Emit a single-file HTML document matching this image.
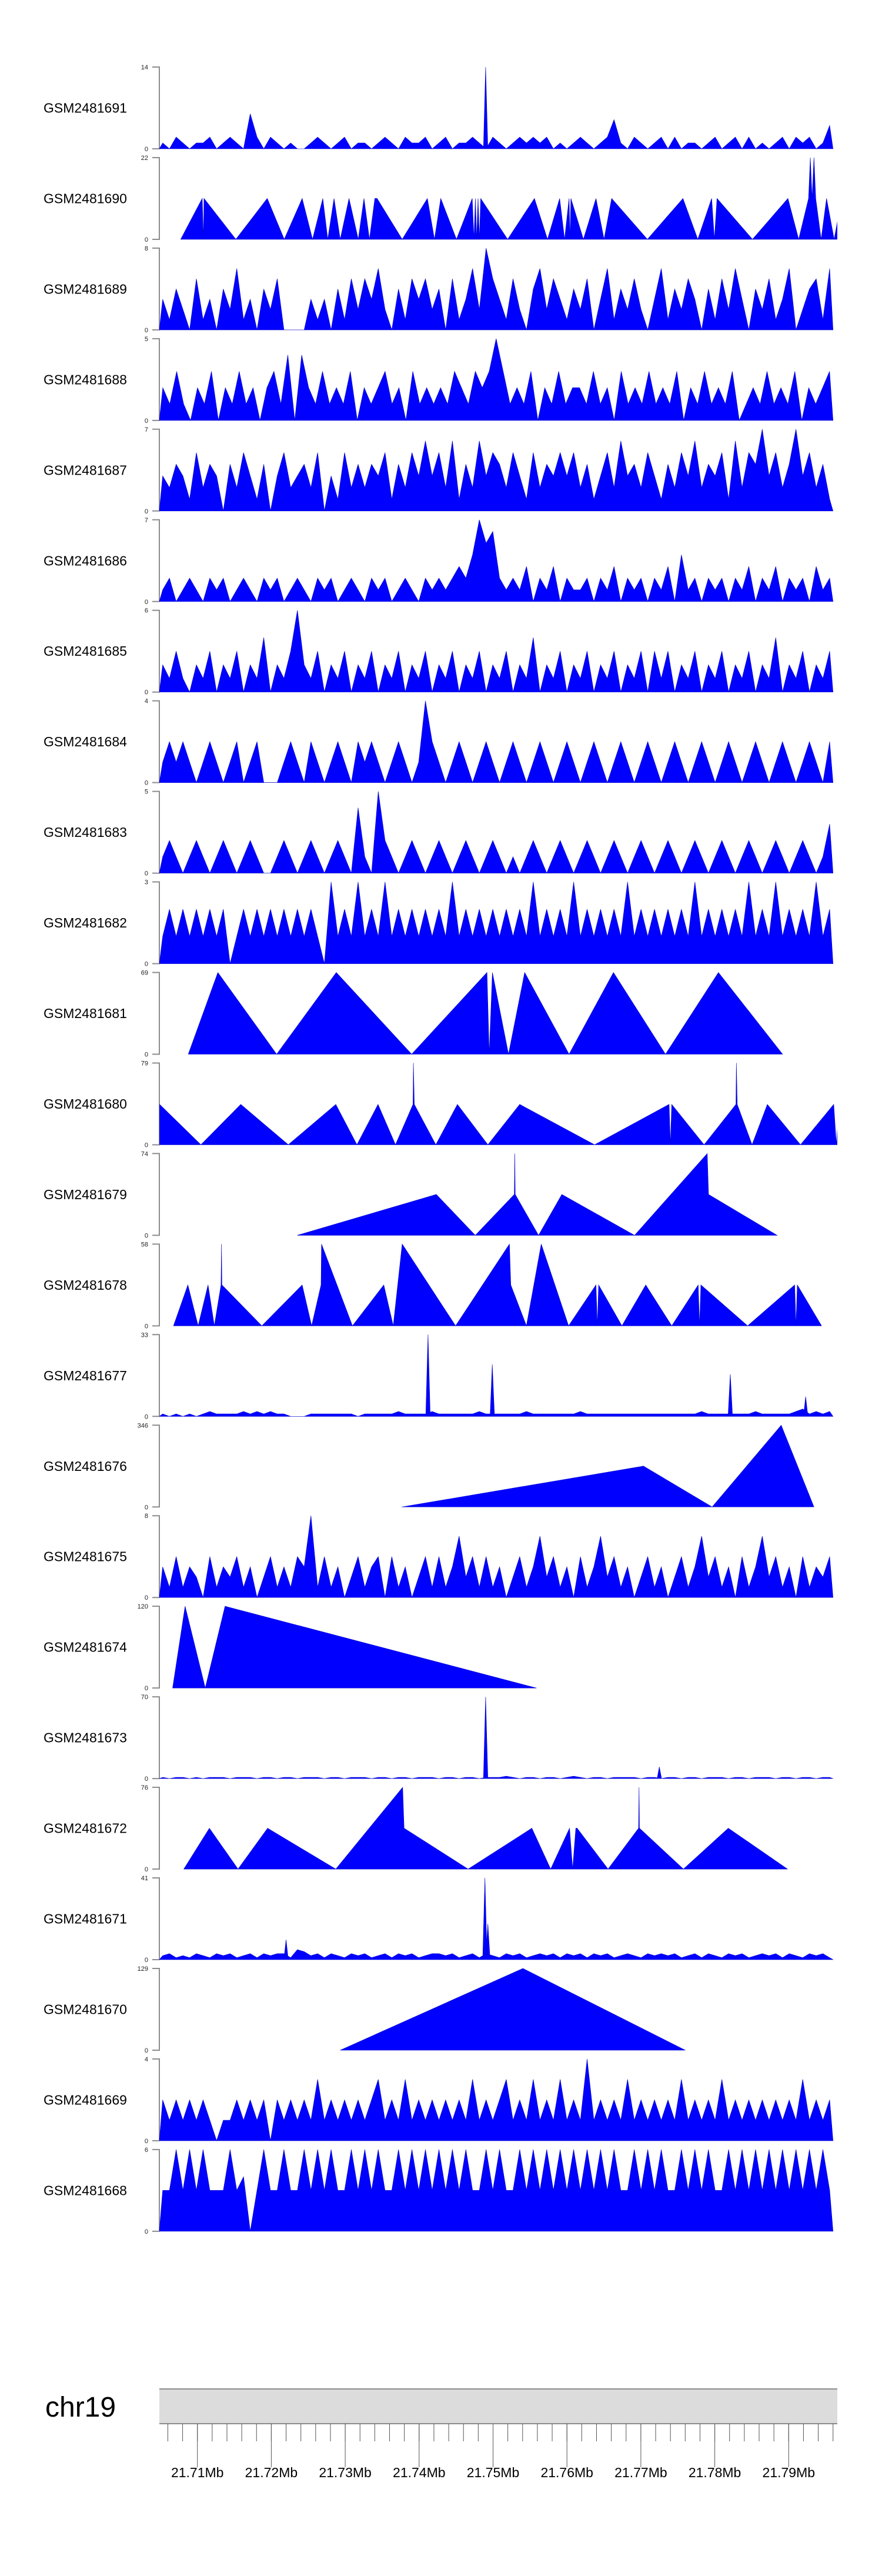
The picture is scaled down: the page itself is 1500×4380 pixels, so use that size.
<!DOCTYPE html>
<html><head><meta charset="utf-8"><style>
body{margin:0;background:#fff;}
svg{display:block;font-family:"Liberation Sans",sans-serif;}
</style></head><body>
<svg id="chart" width="1500" height="4380" viewBox="0 0 1500 4380" xmlns="http://www.w3.org/2000/svg"></svg>
<script>
// ---- data (positions in kb offset from 21.70 Mb) ----
const trackNames = ["GSM2481691","GSM2481690","GSM2481689","GSM2481688","GSM2481687","GSM2481686","GSM2481685","GSM2481684","GSM2481683","GSM2481682","GSM2481681","GSM2481680","GSM2481679","GSM2481678","GSM2481677","GSM2481676","GSM2481675","GSM2481674","GSM2481673","GSM2481672","GSM2481671","GSM2481670","GSM2481669","GSM2481668"];
const trackMax = [14,22,8,5,7,7,6,4,5,3,69,79,74,58,33,346,8,120,70,76,41,129,4,6];
const binStart = 4.85, binEnd = 96.0;
// dense tracks: one digit per bin (value in data units)
const denseBins = {
 "GSM2481691":"1021011201210620210100121012011012102112012011210210121212010121012510210120201101201202010120212014",
 "GSM2481689":"3142051304261304250000313041525362041535240513628531520462531425036142520361425304152630425136024516",
 "GSM2481688":"2131021302131202314042131213021231203121213213235312130213122131203121312130213121301213121302123",
 "GSM2481687":"3243152430425314035234250315242435142536352614263542531524353524135263425314253624351625473524735241",
 "GSM2481686":"1201210212012102120121021201210212012102121232475621213021302112021302120213041202120213021302120312",
 "GSM2481685":"2131021302130214021362130213021302130213021302130213021402130213021302130313021302130213021402130213",
 "GSM2481684":"1212101210120120001210210121021210121014210121012101210121012101210121012101210121012101210121012102",
 "GSM2481683":"1210121012101210012101210121041052101210121012101210101210121012101210121012101210121012101210121013",
 "GSM2481682":"1212121212012121212121210312131213121212121312121212121312121312121213121212121312121213121312121312",
 "GSM2481677":"1010101211112121211000111111101111121111211111121111112111111121111111111111111121111111211111231212",
 "GSM2481675":"3141320413241302413143814130241340413024141362414130241362413041362413024130241362413041362413041324",
 "GSM2481673":"1011010111011101101101110110111011011011101101101112101101101210110111101101101101110110111011011011",
 "GSM2481671":"2312132132312313233154231321323123132312332312313213231232313231323123213232312313213231232313213231",
 "GSM2481669":"2121212101121212021212131212121231213121212121312123121312131214121213121212131212131212121212131212",
 "GSM2481668":"3363636333634036336336363633636363363636363636336363363636363636363633636363363636336363636363636363"
};
// narrow spikes on dense tracks: [kb, value]
const spikePos = {
 "GSM2481691":[49.0],
 "GSM2481677":[41.2,49.9,82.1,92.3],
 "GSM2481673":[49.0,72.5],
 "GSM2481671":[22.0,48.9,49.3]
};
const spikeVal = {
 "GSM2481691":[14],
 "GSM2481677":[33,21,17,8],
 "GSM2481673":[70,10],
 "GSM2481671":[10,41,18]
};
// sparse tracks: vertex positions (kb) and values
const sparsePos = {
 "GSM2481690":[7.74,10.65,10.83,10.89,15.2,19.45,21.75,24.18,25.58,26.97,27.64,28.49,29.32,30.52,31.77,32.54,33.28,34.01,34.31,37.71,41.11,42.08,42.93,45.05,47.18,47.42,47.61,47.79,47.97,48.16,48.33,51.97,55.6,57.37,59.01,59.68,60.29,60.42,60.53,62.23,63.93,65.02,66.05,70.88,75.7,77.7,79.58,79.95,80.3,85.1,89.9,91.35,92.69,92.93,93.17,93.42,93.66,94.39,95.12,96.15,97.18,97.5],
 "GSM2481681":[8.77,12.77,20.72,28.79,38.99,49.18,49.48,49.91,52.09,54.28,60.29,66.29,73.33,80.49,89.17],
 "GSM2481680":[4.89,10.47,15.87,22.30,28.73,31.58,34.44,36.80,39.17,39.23,39.35,42.26,45.18,49.30,53.61,63.74,73.82,74.0,74.18,78.55,82.86,82.92,83.04,85.04,87.11,91.60,96.09,96.45,96.82,97.3],
 "GSM2481679":[23.51,42.32,47.60,52.88,52.94,53.0,56.16,59.31,69.15,78.98,79.16,88.44],
 "GSM2481678":[6.77,8.71,10.10,11.44,12.29,13.20,13.26,13.32,18.72,24.18,25.46,26.73,26.79,30.98,35.22,36.50,37.71,44.93,52.22,52.40,54.52,56.52,60.22,63.93,64.11,64.29,67.44,70.66,74.18,77.76,77.94,78.12,84.44,90.81,90.99,91.17,94.45],
 "GSM2481676":[37.65,70.36,79.64,88.99,93.42],
 "GSM2481674":[6.65,8.34,11.07,13.74,55.86],
 "GSM2481672":[8.16,11.62,15.5,19.5,28.73,37.77,37.96,46.63,55.25,57.8,60.35,60.77,61.2,61.38,65.56,69.69,69.75,69.81,75.76,81.83,89.84],
 "GSM2481670":[29.34,54.04,76.0]
};
const sparseVal = {
 "GSM2481690":[0,11,0,11,0,11,0,11,0,11,0,11,0,11,0,11,0,11,11,0,11,0,11,0,11,0,11,0,11,0,11,0,11,0,11,0,11,0,11,0,11,0,11,0,11,0,11,0,11,0,11,0,11,22,11,22,11,0,11,0,11,0],
 "GSM2481681":[0,69,0,69,0,69,0,69,0,69,0,69,0,69,0],
 "GSM2481680":[39,0,39,0,39,0,39,0,39,79,39,0,39,0,39,0,39,0,39,0,39,79,39,0,39,0,39,0,39,0],
 "GSM2481679":[0,37,0,37,74,37,0,37,0,74,37,0],
 "GSM2481678":[0,29,0,29,0,29,58,29,0,29,0,29,58,0,29,0,58,0,58,29,0,58,0,29,0,29,0,29,0,29,0,29,0,29,0,29,0],
 "GSM2481676":[0,173,0,346,0],
 "GSM2481674":[0,120,0,120,0],
 "GSM2481672":[0,38,0,38,0,76,38,0,38,0,38,0,38,38,0,38,76,38,0,38,0],
 "GSM2481670":[0,129,0]
};
const majorTicks = [10,20,30,40,50,60,70,80,90];
const majorLabels = ["21.71Mb","21.72Mb","21.73Mb","21.74Mb","21.75Mb","21.76Mb","21.77Mb","21.78Mb","21.79Mb"];

// ---- layout / scales ----
const NS="http://www.w3.org/2000/svg";
const svg=document.getElementById('chart');
const X0=271, X1=1424, TOP0=114, PITCH=153.95, H=139;
function xs(kb){return 335.7+(kb-10)*12.57;}
function mk(tag,attrs,parent){const e=document.createElementNS(NS,tag);for(const k in attrs)e.setAttribute(k,attrs[k]);(parent||svg).appendChild(e);return e;}
const defs=mk('defs',{});
const cp=mk('clipPath',{id:'plotclip'},defs);
mk('rect',{x:X0,y:0,width:X1-X0,height:4000},cp);

trackNames.forEach((name,i)=>{
  const top=TOP0+PITCH*i, base=top+H, mx=trackMax[i];
  const ys=v=>base-(v/mx)*H;
  const g=mk('g',{});
  
  
  const lab=mk('text',{x:74,y:(top+base)/2+8,'font-size':23,fill:'#000'},g);
  lab.textContent=name;
  
  
  const ax=mk('path',{d:`M259,${top}H271V${base}H259`,stroke:'#8c8c8c','stroke-width':2,fill:'none'},g);
  
  
  const t1=mk('text',{x:252,y:top+4,'font-size':11,'text-anchor':'end',fill:'#222'},g);t1.textContent=String(mx);
  
  
  const t0=mk('text',{x:252,y:base+4,'font-size':11,'text-anchor':'end',fill:'#222'},g);t0.textContent='0';
  
  
  const dg=mk('g',{'clip-path':'url(#plotclip)'},g);
  let d='';
  if(denseBins[name]){
    const s=denseBins[name], n=s.length, w=(binEnd-binStart)/n;
    d=`M${xs(binStart)},${base}`;
    for(let k=0;k<n;k++){
      const v=+s[k];
      d+=`L${xs(binStart+(k+0.5)*w).toFixed(1)},${ys(v).toFixed(1)}`;
    }
    d+=`L${xs(binEnd).toFixed(1)},${base}Z`;
    (spikePos[name]||[]).forEach((p,j)=>{
      const v=spikeVal[name][j];
      d+=`M${xs(p-0.3).toFixed(1)},${base}L${xs(p).toFixed(1)},${ys(v).toFixed(1)}L${xs(p+0.3).toFixed(1)},${base}Z`;
    });
  } else {
    const P=sparsePos[name], V=sparseVal[name];
    d=`M${xs(P[0]).toFixed(1)},${base}`;
    P.forEach((p,j)=>{d+=`L${xs(p).toFixed(1)},${ys(V[j]).toFixed(1)}`;});
    d+=`L${xs(P[P.length-1]).toFixed(1)},${base}Z`;
  }
  const area=mk('path',{d:d,fill:'#0000ff',stroke:'#0000cc','stroke-width':0.6,'stroke-linejoin':'miter'},dg);
  
  
});

// ---- ideogram axis ----
const ig=mk('g',{});


const chr=mk('text',{x:77,y:4109,'font-size':48,fill:'#000'},ig);chr.textContent='chr19';


const band=mk('rect',{x:271,y:4062,width:1153,height:59,fill:'#dcdcdc'},ig);


mk('line',{x1:271,x2:1424,y1:4062,y2:4062,stroke:'#8c8c8c','stroke-width':2},ig);
mk('line',{x1:271,x2:1424,y1:4121,y2:4121,stroke:'#8c8c8c','stroke-width':2},ig);
for(let kb=6;kb<=96;kb+=2){
  const tk=mk('line',{x1:xs(kb),x2:xs(kb),y1:4121,y2:4151,stroke:'#555','stroke-width':1},ig);
  
  
}
majorTicks.forEach((kb,j)=>{
  const tk=mk('line',{x1:xs(kb),x2:xs(kb),y1:4121,y2:4195,stroke:'#555','stroke-width':1},ig);
  
  
  const tl=mk('text',{x:xs(kb),y:4212,'font-size':23,'text-anchor':'middle',fill:'#000'},ig);
  tl.textContent=majorLabels[j];
  
  
});
</script>
</body></html>
